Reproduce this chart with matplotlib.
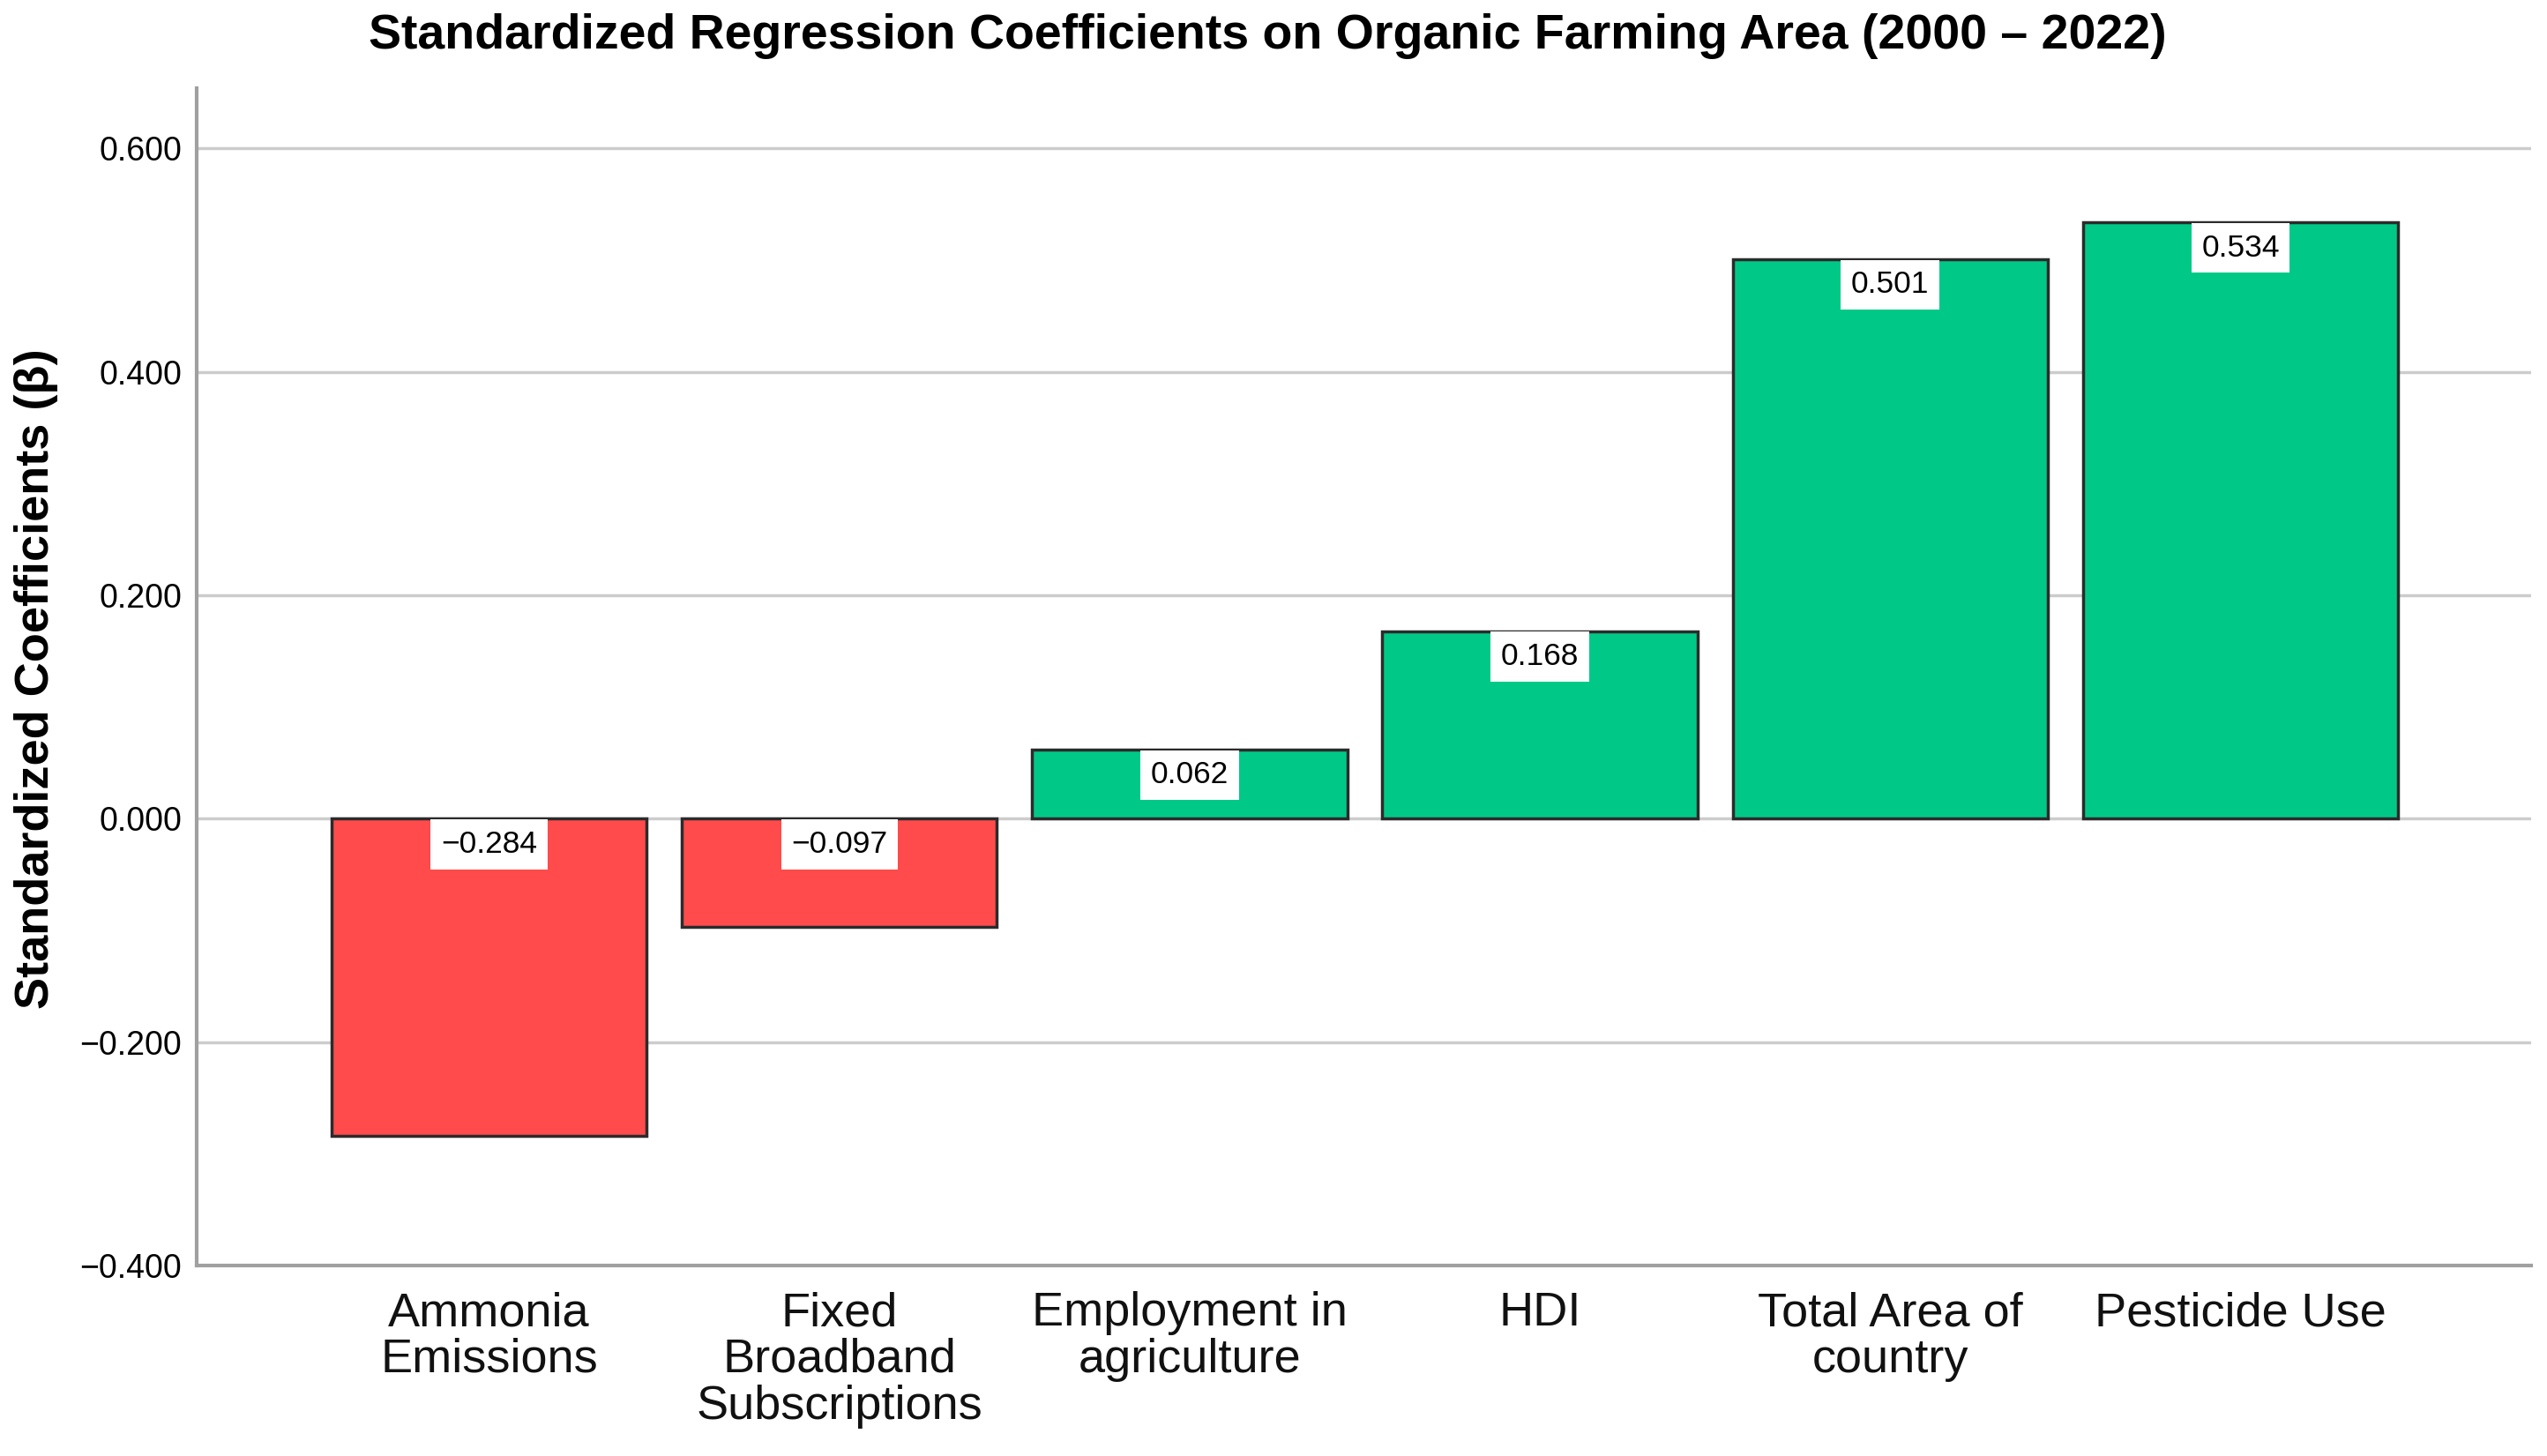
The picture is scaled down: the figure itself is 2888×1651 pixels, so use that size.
import matplotlib
matplotlib.use("Agg")
import matplotlib.pyplot as plt
import numpy as np

plt.rcParams['font.family'] = ['Liberation Sans', 'DejaVu Sans']

# data
predictors = ['Ammonia\nEmissions', 'Fixed\nBroadband\nSubscriptions', 'Employment in\nagriculture',
              'HDI', 'Total Area of\ncountry', 'Pesticide Use']
betas = [-0.284, -0.097, 0.062, 0.168, 0.501, 0.534]
yticks = [-0.4, -0.2, 0.0, 0.2, 0.4, 0.6]

colors = ['#ff4b4b' if b < 0 else '#00c987' for b in betas]

fig = plt.figure(figsize=(28.88, 16.51), dpi=100)
ax = fig.add_axes([0.0772, 0.1308, 0.9166, 0.8086])

x = np.arange(len(betas))
ax.bar(x, betas, width=0.9, color=colors, edgecolor='#2b2b2b', linewidth=2.5, zorder=3)

# value labels in white boxes at the top edge of each bar
for i, b in enumerate(betas):
    top = max(b, 0)
    ax.annotate('{:.3f}'.format(b).replace('-', '\u2212'), xy=(i, top), xytext=(0, -9),
                textcoords='offset points', ha='center', va='top', fontsize=25.5,
                bbox=dict(boxstyle='square,pad=0.33', fc='white', ec='none'), zorder=4)

ax.set_xlim(-0.835, len(betas) - 1 + 0.83)
ax.set_ylim(-0.4, 0.654)
ax.set_yticks(yticks)
ax.set_yticklabels(['{:.3f}'.format(t).replace('-', '\u2212') for t in yticks])
ax.set_xticks(x)
ax.set_xticklabels(predictors, fontsize=39, linespacing=1.07, color='#111111')
ax.tick_params(axis='y', length=0, pad=12, labelsize=27)
ax.tick_params(axis='x', length=0, pad=21)
ax.yaxis.grid(True, color='#cccccc', linewidth=2.5, zorder=0)
ax.set_axisbelow(True)

for s in ['top', 'right']:
    ax.spines[s].set_visible(False)
for s in ['left', 'bottom']:
    ax.spines[s].set_color('#a0a0a0')
    ax.spines[s].set_linewidth(3)

fig.text(0.4976, 0.975, 'Standardized Regression Coefficients on Organic Farming Area (2000 \u2013 2022)',
         ha='center', va='center', fontsize=40, fontweight='bold')
fig.text(0.0141, 0.5336, 'Standardized Coefficients (\u03b2)', rotation=90,
         ha='center', va='center', fontsize=39, fontweight='bold')

fig.savefig('out.png', dpi=100)
